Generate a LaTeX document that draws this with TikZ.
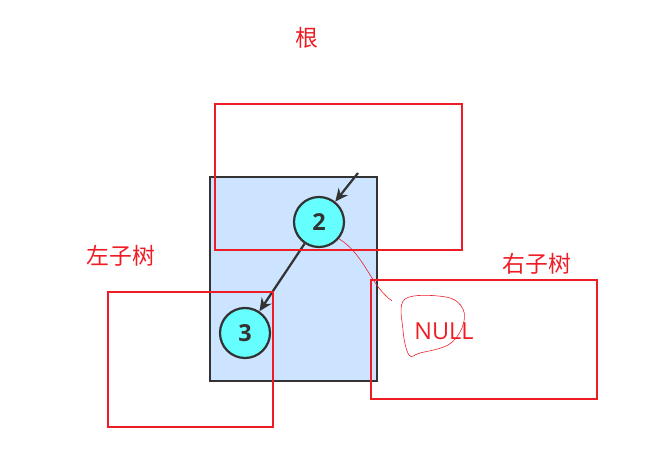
\documentclass[tikz,border=0pt]{standalone}
\usepackage{fontspec}
\setsansfont{Open Sans}
\newfontfamily\cjk{Noto Sans CJK SC}
\usetikzlibrary{arrows.meta,positioning,calc}

\definecolor{boxblue}{HTML}{CCE4FF}
\definecolor{nodecyan}{HTML}{66FFFF}
\definecolor{darkline}{HTML}{333333}
\definecolor{markred}{HTML}{EE1C25}

\tikzset{
  treenode/.style={circle, draw=darkline, line width=1.9pt, fill=nodecyan,
    minimum size=1.5cm, inner sep=0pt, font=\sffamily\bfseries\fontsize{20}{20}\selectfont, text=darkline},
  treelink/.style={darkline, line width=1.9pt, -{Stealth[length=11pt,width=10pt]}},
  markbox/.style={draw=markred, line width=2.4pt},
  marklabel/.style={text=markred, font=\cjk\fontsize{19.5}{19.5}\selectfont},
}

\begin{document}
\begin{tikzpicture}[x=0.03cm, y=-0.03cm]
    \useasboundingbox (0,0) rectangle (646,455);

    % Binary tree box
    \draw[darkline, fill=boxblue, line width=1.9pt] (210,177) rectangle (377,381);
    \node[treenode] (n2) at (319,222) {2};
    \node[treenode] (n3) at (245,333) {3};
    \coordinate (in) at (358,173);
    \draw[treelink] (in) -- (n2);
    \draw[treelink] (n2) -- (n3);

    % Marked parts
    \draw[markbox] (215,104) rectangle (462,250);
    \draw[markbox] (108,292) rectangle (273,427);
    \draw[markbox] (371,280) rectangle (597,399);
    \node[marklabel] (root) at (307,38) {根};
    \node[marklabel] (lsub) at (121,256) {左子树};
    \node[marklabel] (rsub) at (537,264) {右子树};

    % Empty right child
    \node[text=markred, font=\sffamily\fontsize{20}{20}\selectfont] (null) at (444,331) {NULL};
    \draw[markred, line width=0.5pt] plot[smooth cycle, tension=0.6] coordinates
      {(405,299) (446,297) (463,309) (462,328) (448,345) (420,353) (409,355) (403,330)};
    \coordinate (wave) at (392,301);
    \draw[markred, line width=0.5pt] (n2.-40) .. controls (365,255) and (370,285) .. (wave);
\end{tikzpicture}
\end{document}
